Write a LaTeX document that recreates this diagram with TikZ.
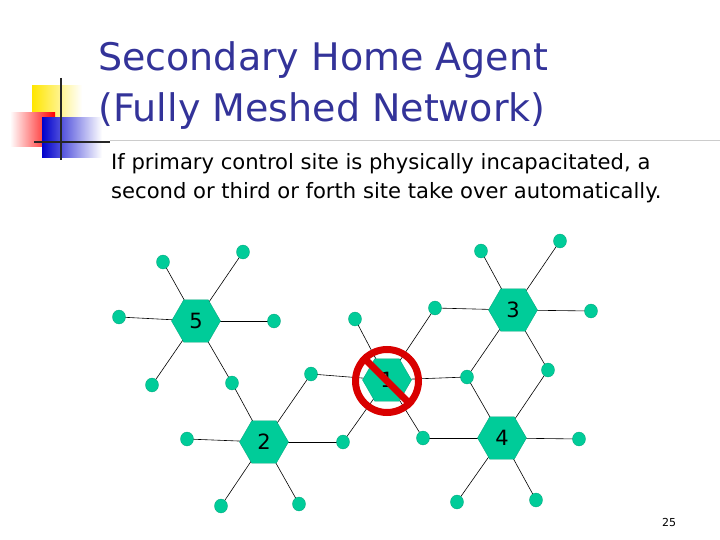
\documentclass[tikz,border=0pt]{standalone}
\usepackage{fontspec}
\setmainfont{DejaVu Sans}
\usetikzlibrary{shapes.geometric}
\definecolor{hexg}{RGB}{0,204,153}
\definecolor{titleblue}{RGB}{51,51,153}
\tikzset{
 hexnode/.style={regular polygon,regular polygon sides=6,minimum size=49pt,inner sep=0pt,fill=hexg,draw=hexg!80!black,line width=0.3pt,font=\fontsize{21}{21}\selectfont},
 leaf/.style={ellipse,minimum width=13pt,minimum height=14pt,inner sep=0pt,fill=hexg,draw=hexg!80!black,line width=0.3pt},
 link/.style={line width=0.6pt}
}
\begin{document}
\begin{tikzpicture}[x=1pt,y=-1pt]
\useasboundingbox (0,0) rectangle (720,540);
\fill[white] (0,0) rectangle (720,540);
% logo
\shade[left color=yellow!80!orange,right color=white] (32,86) rectangle (82,120);
\shade[left color=white,right color=red] (10,113) rectangle (55,147);
\shade[left color=blue!80!black,right color=white] (42,118) rectangle (102,158);
\draw[line width=2pt,black!85] (61,78) -- (61,160);
\draw[line width=2pt,black!85] (34,142) -- (110,142);
\draw[gray!40,line width=0.8pt] (110,140) -- (720,140);
% title
\node[anchor=west,text=titleblue,font=\fontsize{38}{51}\selectfont,align=left,inner sep=0pt] (title) at (98,86) {Secondary Home Agent\\(Fully Meshed Network)};
\node[anchor=north west,font=\fontsize{21.1}{29}\selectfont,align=left,inner sep=0pt] (body) at (111,153) {If primary control site is physically incapacitated, a\\second or third or forth site take over automatically.};
% hexes
\coordinate (h5c) at (196,321);
\coordinate (h3c) at (513,310);
\coordinate (h1c) at (387,380);
\coordinate (h2c) at (264,442);
\coordinate (h4c) at (502,438);
% leaves
\foreach \n/\x/\y in {a/163/262,b/243/252,c/119/317,d/274/321,e/152/385,f/232/383,
 g/355/319,h/435/308,i/311/374,j/467/377,k/343/442,l/423/438,
 m/481/251,n/560/241,o/591/311,p/548/370,
 q/187/439,r/221/506,s/299/504,
 t/579/439,u/457/502,v/536/500}
 \coordinate (\n c) at (\x,\y);
% links
\foreach \h/\ls in {h5c/{ac,bc,cc,dc,ec,fc},h1c/{gc,hc,ic,jc,kc,lc},h3c/{mc,nc,oc,pc,hc,jc},h2c/{qc,rc,sc,fc,ic,kc},h4c/{tc,uc,vc,jc,pc,lc}}
 \foreach \l in \ls \draw[link] (\h) -- (\l);
\foreach \n in {a,b,c,d,e,f,g,h,i,j,k,l,m,n,o,p,q,r,s,t,u,v}
 \node[leaf] (\n) at (\n c) {};
\node[hexnode] (h5) at (h5c) {5};
\node[hexnode] (h3) at (h3c) {3};
\node[hexnode] (h1) at (h1c) {1};
\node[hexnode] (h2) at (h2c) {2};
\node[hexnode] (h4) at (h4c) {4};
% no sign
\node[circle,draw=red!85!black,line width=7pt,minimum size=63pt,inner sep=0pt] (no) at (387,381) {};
\draw[red!85!black,line width=7pt] (no.135) -- (no.-45);
\node[font=\fontsize{11}{11}\selectfont] (pg) at (669,522) {25};
\end{tikzpicture}
\end{document}
